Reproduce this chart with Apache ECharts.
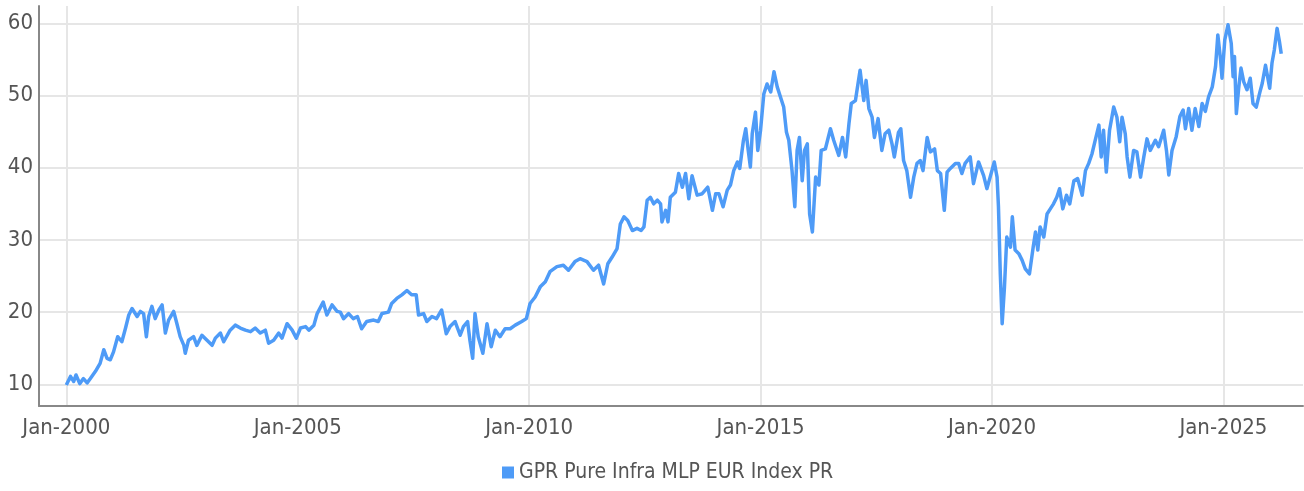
<!DOCTYPE html>
<html>
<head>
<meta charset="utf-8">
<script src="https://cdn.jsdelivr.net/npm/echarts@6/dist/echarts.min.js"></script>
<style>
html,body{margin:0;padding:0;background:#fff;}
#chart{width:1304px;height:491px;}
</style>
</head>
<body>
<div id="chart"></div>
<script>
// decimal years
const years = [
2000.00,2000.09,2000.16,2000.21,2000.29,2000.37,2000.45,2000.52,2000.63,2000.73,2000.81,2000.88,2000.95,
2001.02,2001.11,2001.20,2001.28,2001.35,2001.42,2001.53,2001.60,2001.67,2001.73,2001.78,2001.85,2001.92,
2002.00,2002.07,2002.14,2002.21,2002.32,2002.39,2002.46,2002.54,2002.57,2002.64,2002.75,2002.82,2002.93,
2003.04,2003.15,2003.22,2003.33,2003.40,2003.54,2003.65,2003.76,2003.87,2003.98,
2004.08,2004.19,2004.30,2004.37,2004.48,2004.59,2004.66,2004.77,2004.88,2004.97,
2005.06,2005.17,2005.24,2005.35,2005.42,2005.55,2005.63,2005.74,2005.85,2005.92,2005.99,
2006.10,2006.20,2006.29,2006.38,2006.49,2006.64,2006.74,2006.82,2006.96,
2007.03,2007.14,2007.25,2007.36,2007.46,2007.56,2007.61,2007.72,2007.79,2007.90,
2008.00,2008.11,2008.21,2008.29,2008.40,2008.51,2008.58,2008.67,2008.72,2008.78,2008.83,2008.90,
2009.00,2009.09,2009.18,2009.27,2009.37,2009.48,2009.59,2009.70,2009.84,2009.94,
2010.02,2010.13,2010.24,2010.35,2010.45,2010.60,2010.74,2010.85,2010.99,
2011.10,2011.25,2011.39,2011.50,2011.61,2011.70,2011.79,2011.90,2011.97,
2012.05,2012.13,2012.23,2012.33,2012.42,2012.48,2012.55,2012.62,2012.69,2012.77,2012.84,2012.87,2012.95,
2013.00,2013.05,2013.16,2013.23,2013.31,2013.38,2013.45,2013.52,2013.63,2013.74,2013.86,2013.96,
2014.03,2014.10,2014.19,2014.28,2014.35,2014.42,2014.50,2014.55,2014.63,2014.68,2014.73,2014.78,2014.82,2014.89,2014.94,
2015.00,2015.07,2015.14,2015.22,2015.29,2015.36,2015.43,2015.50,2015.56,2015.61,2015.68,2015.74,2015.79,2015.84,2015.90,2015.95,
2016.01,2016.06,2016.12,2016.19,2016.26,2016.31,2016.40,2016.51,2016.58,2016.69,2016.77,2016.84,2016.91,2016.96,
2017.05,2017.15,2017.23,2017.28,2017.34,2017.41,2017.46,2017.54,2017.62,2017.69,2017.77,2017.84,2017.89,2017.98,
2018.03,2018.09,2018.16,2018.24,2018.31,2018.38,2018.45,2018.51,2018.60,2018.67,2018.76,2018.82,2018.89,2018.97,
2019.03,2019.10,2019.21,2019.28,2019.35,2019.42,2019.53,2019.60,2019.71,2019.82,2019.89,2019.96,
2020.05,2020.11,2020.14,2020.18,2020.22,2020.27,2020.32,2020.40,2020.44,2020.50,2020.58,2020.65,2020.72,2020.81,2020.89,2020.94,2020.99,
2021.04,2021.12,2021.19,2021.26,2021.33,2021.40,2021.46,2021.53,2021.61,2021.68,2021.77,2021.85,2021.95,
2022.02,2022.09,2022.16,2022.23,2022.31,2022.36,2022.41,2022.47,2022.54,2022.63,2022.70,2022.76,2022.81,2022.88,2022.92,2022.98,
2023.06,2023.13,2023.21,2023.28,2023.35,2023.42,2023.53,2023.60,2023.71,2023.77,2023.82,2023.89,2023.98,
2024.06,2024.13,2024.18,2024.25,2024.32,2024.39,2024.47,2024.54,2024.61,2024.68,2024.76,2024.83,2024.88,2024.94,2024.97,
2025.03,2025.10,2025.17,2025.21,2025.24,2025.28,2025.33,2025.38,2025.44,2025.51,2025.58,2025.64,2025.71,2025.79,2025.84,2025.91,
2026.00,2026.05,2026.10,2026.16,2026.21,2026.25
];
const values = [
9.9,11.1,10.4,11.3,10.1,10.8,10.2,10.8,11.8,12.9,14.8,13.6,13.4,
14.5,16.6,15.9,17.8,19.6,20.5,19.4,20.1,19.8,16.6,19.4,20.8,19.1,
20.3,21.0,17.1,18.9,20.1,18.4,16.6,15.4,14.3,16.1,16.6,15.4,16.8,
16.1,15.4,16.4,17.1,15.9,17.5,18.2,17.8,17.5,17.3,
17.8,17.1,17.5,15.7,16.1,17.1,16.4,18.4,17.5,16.4,
17.8,18.0,17.5,18.2,19.8,21.4,19.6,21.0,20.1,20.0,19.1,
19.8,19.1,19.4,17.7,18.7,18.9,18.7,19.8,20.0,
21.2,21.9,22.4,23.0,22.4,22.4,19.6,19.8,18.7,19.4,
19.1,20.3,17.0,18.0,18.7,16.8,18.0,18.7,16.1,13.6,19.8,16.6,
14.3,18.4,15.2,17.5,16.6,17.7,17.7,18.2,18.7,19.1,
21.2,22.1,23.5,24.2,25.6,26.3,26.5,25.8,27.0,
27.4,27.0,25.8,26.5,23.9,26.7,27.6,28.8,32.2,
33.2,32.7,31.3,31.6,31.3,31.8,35.5,35.9,35.0,35.5,35.0,32.5,34.1,
32.5,35.9,36.6,39.2,37.3,39.2,35.7,38.9,36.2,36.4,37.3,34.1,
36.4,36.4,34.6,36.9,37.6,39.6,40.8,39.9,43.8,45.4,42.6,40.1,44.7,47.7,42.4,
45.2,50.2,51.6,50.5,53.3,51.2,49.8,48.4,44.9,43.8,39.6,34.6,42.4,44.2,38.2,42.4,
43.3,33.6,31.1,38.7,37.6,42.4,42.6,45.4,43.8,41.7,44.2,41.5,46.1,48.9,
49.3,53.5,49.3,52.1,48.2,47.0,44.2,46.8,42.4,44.7,45.2,43.3,41.5,44.9,
45.4,41.0,39.6,35.9,38.7,40.6,41.0,39.6,44.2,42.2,42.6,39.6,39.2,34.1,
39.4,39.9,40.6,40.6,39.2,40.6,41.5,37.8,40.8,38.9,37.1,38.7,
40.8,38.7,34.6,25.3,18.4,23.5,30.4,29.0,33.2,28.6,28.1,27.2,26.0,25.3,29.0,31.1,28.6,
31.8,30.4,33.6,34.3,35.0,35.9,37.1,34.3,36.2,35.0,38.2,38.5,36.2,
39.6,40.6,41.9,43.8,45.9,41.5,45.2,39.4,45.2,48.4,47.0,43.6,47.0,44.7,41.5,38.7,
42.4,42.2,38.7,41.5,44.0,42.4,43.8,42.9,45.2,42.4,39.0,42.4,44.3,
47.1,48.0,45.4,48.2,45.2,48.2,45.7,48.9,47.8,49.8,51.2,54.0,58.4,54.9,52.4,
57.7,59.8,57.2,52.6,55.4,47.5,51.0,53.8,51.9,50.8,52.4,48.9,48.4,50.5,51.7,54.2,
51.0,54.5,56.3,59.3,57.5,55.8
];
const xTicks = [2000, 2005, 2010, 2015, 2020, 2025];
const yTicks = [10, 20, 30, 40, 50, 60];
const seriesName = 'GPR Pure Infra MLP EUR Index PR';

const FONT = "'Liberation Sans Narrow', 'DejaVu Sans Condensed', sans-serif";
const data = years.map((y, i) => [y, values[i]]);

const chart = echarts.init(document.getElementById('chart'), null, {renderer: 'canvas'});
chart.setOption({
  animation: false,
  backgroundColor: '#ffffff',
  grid: {left: 39, right: 1, top: 6, bottom: 85, containLabel: false},
  legend: {
    data: [seriesName],
    bottom: 3,
    left: 497,
    icon: 'rect',
    itemWidth: 12,
    itemHeight: 12,
    itemGap: 10,
    textStyle: {fontFamily: FONT, fontSize: 21, color: '#555'}
  },
  xAxis: {
    type: 'value',
    min: 1999.41,
    max: 2026.72,
    axisLine: {show: true, onZero: false, lineStyle: {color: '#888', width: 2}},
    axisTick: {show: false, customValues: xTicks},
    axisLabel: {
      customValues: xTicks,
      formatter: v => 'Jan-' + Math.round(v),
      fontFamily: FONT, fontSize: 22, color: '#555', margin: 11
    },
    splitLine: {show: true, lineStyle: {color: '#e6e6e6', width: 2}}
  },
  yAxis: {
    type: 'value',
    min: 7,
    max: 62.4,
    axisLine: {show: true, lineStyle: {color: '#888', width: 2}},
    axisTick: {show: false, customValues: yTicks},
    axisLabel: {
      customValues: yTicks,
      fontFamily: FONT, fontSize: 22, color: '#555', margin: 6
    },
    splitLine: {show: true, lineStyle: {color: '#e6e6e6', width: 2}}
  },
  series: [{
    name: seriesName,
    type: 'line',
    data: data,
    showSymbol: false,
    symbol: 'none',
    itemStyle: {color: '#4e9bf7'},
    lineStyle: {color: '#4e9bf7', width: 3.5, join: 'round'},
    z: 3
  }]
});
</script>
</body>
</html>
